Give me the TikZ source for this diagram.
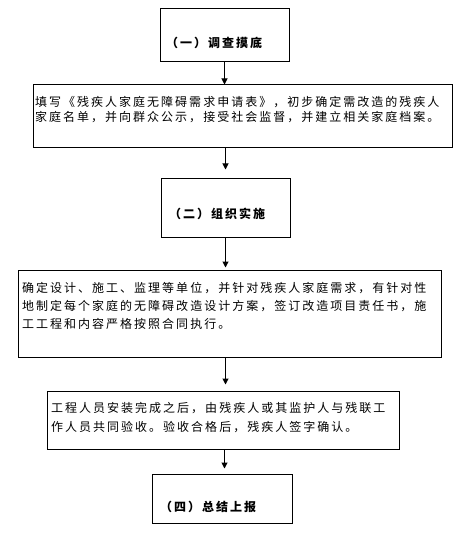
\documentclass[tikz,border=0pt]{standalone}
\usepackage{fontspec}
\newfontfamily\cjk{Noto Sans CJK SC}[LetterSpace=16.7]
\usetikzlibrary{arrows.meta}
\tikzset{
  box/.style={draw=black, line width=1pt, rectangle, inner sep=0pt},
  txt/.style={anchor=north west, inner sep=0pt, align=left, font=\cjk\fontsize{12}{15}\selectfont},
  ttl/.style={anchor=west, inner sep=0pt, font=\cjk\bfseries\fontsize{12}{15}\selectfont},
  arr/.style={line width=1pt, -{Triangle[length=6pt,width=6pt]}}
}
\begin{document}
\begin{tikzpicture}[x=1pt,y=-1pt]
\useasboundingbox (0,0) rectangle (470,534);
% boxes
\node[box, minimum width=129pt, minimum height=53pt] (b1) at (224.5,35.5) {};
\node[box, minimum width=419pt, minimum height=63pt] (b2) at (242.5,116.5) {};
\node[box, minimum width=129pt, minimum height=58pt] (b3) at (225.5,208) {};
\node[box, minimum width=423pt, minimum height=87pt] (b4) at (229.5,313.5) {};
\node[box, minimum width=352pt, minimum height=58pt] (b5) at (223,420) {};
\node[box, minimum width=140pt, minimum height=49pt] (b6) at (222,498.5) {};
% texts
\node[ttl] (t1) at (166,43) {（一）调查摸底};
\node[txt] (t2) at (35,96) {填写《残疾人家庭无障碍需求申请表》，初步确定需改造的残疾人\\家庭名单，并向群众公示，接受社会监督，并建立相关家庭档案。};
\node[ttl] (t3) at (169,214) {（二）组织实施};
\node[txt, font=\cjk\fontsize{12}{18}\selectfont] (t4) at (22,282) {确定设计、施工、监理等单位，并针对残疾人家庭需求，有针对性\\地制定每个家庭的无障碍改造设计方案，签订改造项目责任书，施\\工工程和内容严格按照合同执行。};
\node[txt, font=\cjk\fontsize{12}{19}\selectfont] (t5) at (51,402) {工程人员安装完成之后，由残疾人或其监护人与残联工\\作人员共同验收。验收合格后，残疾人签字确认。};
\node[ttl] (t6) at (160,507) {（四）总结上报};
% arrows
\draw[arr] (b1.south) -- (b1.south |- b2.north);
\draw[arr, shorten >=9pt] (b3.north |- b2.south) -- (b3.north);
\draw[arr, shorten >=2pt] (b3.south) -- (b3.south |- b4.north);
\draw[arr, shorten >=6pt] (b3.south |- b4.south) -- (b3.south |- b5.north);
\draw[arr, shorten >=5pt] (b1.south |- b5.south) -- (b1.south |- b6.north);
\end{tikzpicture}
\end{document}
